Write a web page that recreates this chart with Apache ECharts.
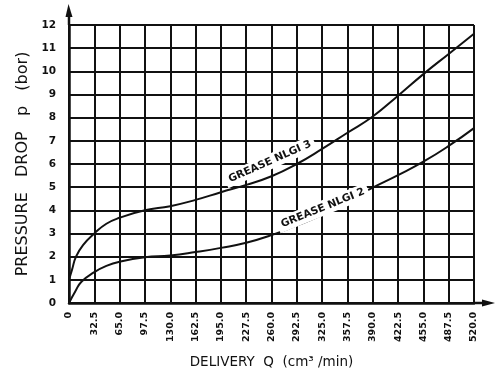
<!DOCTYPE html>
<html>
<head>
<meta charset="utf-8">
<script src="https://cdn.jsdelivr.net/npm/echarts@6/dist/echarts.min.js"></script>
<style>
  html, body { margin: 0; padding: 0; background: #fff; }
  #chart { width: 496px; height: 374px; }
</style>
</head>
<body>
<div id="chart"></div>
<script>
// Delivery Q (cm3/min) and pressure drop p (bar) for the two grease grades
const nlgi3Q = [0, 4, 9, 18, 32.5, 48, 65, 97.5, 130, 162.5, 195, 227.5, 260, 292.5, 325, 357.5, 390, 422.5, 455, 487.5, 520];
const nlgi3P = [1.0, 1.45, 2.0, 2.5, 3.0, 3.42, 3.68, 4.0, 4.18, 4.45, 4.78, 5.1, 5.47, 6.0, 6.65, 7.35, 8.05, 8.95, 9.88, 10.75, 11.62];

const nlgi2Q = [0, 8, 16, 32.5, 48, 65, 97.5, 130, 162.5, 195, 227.5, 260, 292.5, 325, 357.5, 390, 422.5, 455, 487.5, 520];
const nlgi2P = [0, 0.5, 0.92, 1.33, 1.6, 1.78, 1.97, 2.05, 2.2, 2.38, 2.6, 2.93, 3.35, 3.8, 4.4, 4.98, 5.52, 6.1, 6.78, 7.55];

// Axis tick labels
const xTickLabels = ['0', '32.5', '65.0', '97.5', '130.0', '162.5', '195.0', '227.5', '260.0',
  '292.5', '325.0', '357.5', '390.0', '422.5', '455.0', '487.5', '520.0'];
const yTickLabels = ['0', '1', '2', '3', '4', '5', '6', '7', '8', '9', '10', '11', '12'];

// Curve captions: text, anchor (Q, p) and baseline angle in degrees
const curveNames = ['GREASE NLGI 3', 'GREASE NLGI 2'];
const captionAnchors = [[258, 6.1], [326, 4.1]];
const captionAngles = [24, 22];

const pairs = (xs, ys) => xs.map((x, i) => [x, ys[i]]);

const INK = '#111';
const FONT = 'DejaVu Sans';

const chart = echarts.init(document.getElementById('chart'), null, { renderer: 'canvas' });

const option = {
  backgroundColor: '#fff',
  animation: false,
  grid: { left: 69, right: 22, top: 25, bottom: 68, containLabel: false },
  xAxis: {
    type: 'value',
    min: 0, max: 520, interval: 32.5,
    name: 'DELIVERY  Q  (cm\u00b3 /min)',
    nameLocation: 'middle',
    nameGap: 52,
    nameTextStyle: { fontFamily: FONT, fontSize: 13.5, color: INK },
    axisLine: { show: true, lineStyle: { color: INK, width: 2.5 } },
    axisTick: { show: false },
    axisLabel: {
      rotate: 90, margin: 9, fontFamily: FONT, fontWeight: 'bold', fontSize: 9.5, color: INK,
      formatter: (v, i) => xTickLabels[i] ?? ''
    },
    splitLine: { show: true, lineStyle: { color: INK, width: 2 } }
  },
  yAxis: {
    type: 'value',
    min: 0, max: 12, interval: 1,
    name: 'PRESSURE   DROP   p   (bor)',
    nameLocation: 'middle',
    nameRotate: 90,
    nameGap: 38,
    nameTextStyle: { fontFamily: FONT, fontSize: 16, color: INK },
    axisLine: { show: true, lineStyle: { color: INK, width: 2.5 } },
    axisTick: { show: false },
    axisLabel: {
      margin: 13, fontFamily: FONT, fontWeight: 'bold', fontSize: 10.5, color: INK,
      formatter: (v, i) => yTickLabels[i] ?? ''
    },
    splitLine: { show: true, lineStyle: { color: INK, width: 2 } }
  },
  series: [
    {
      name: curveNames[0], type: 'line', data: pairs(nlgi3Q, nlgi3P),
      smooth: 0.5, showSymbol: false, z: 5,
      lineStyle: { color: INK, width: 2 }
    },
    {
      name: curveNames[1], type: 'line', data: pairs(nlgi2Q, nlgi2P),
      smooth: 0.5, showSymbol: false, z: 5,
      lineStyle: { color: INK, width: 2 }
    }
  ]
};

chart.setOption(option);

// Axis arrows and curve captions, placed through the chart's own coordinate system
function overlay() {
  const toPx = (pt) => chart.convertToPixel({ xAxisIndex: 0, yAxisIndex: 0 }, pt);
  const origin = toPx([0, 0]);
  const yTop = toPx([0, 12]);
  const xEnd = toPx([520, 0]);
  const elements = [];

  // vertical axis extension with arrow head
  elements.push({ type: 'line', z: 50, shape: { x1: origin[0], y1: yTop[1], x2: origin[0], y2: yTop[1] - 10 },
    style: { stroke: INK, lineWidth: 2.5 } });
  elements.push({ type: 'polygon', z: 50, shape: { points: [[origin[0] - 3.5, yTop[1] - 8], [origin[0] + 3.5, yTop[1] - 8], [origin[0] - 0.5, yTop[1] - 21]] },
    style: { fill: INK } });

  // horizontal axis extension with arrow head
  elements.push({ type: 'line', z: 50, shape: { x1: xEnd[0], y1: origin[1], x2: xEnd[0] + 10, y2: origin[1] },
    style: { stroke: INK, lineWidth: 2.5 } });
  elements.push({ type: 'polygon', z: 50, shape: { points: [[xEnd[0] + 8, origin[1] - 3.5], [xEnd[0] + 8, origin[1] + 3.5], [xEnd[0] + 21, origin[1]]] },
    style: { fill: INK } });

  curveNames.forEach((txt, i) => {
    const p = toPx(captionAnchors[i]);
    elements.push({
      type: 'text', z: 60, x: p[0], y: p[1],
      rotation: captionAngles[i] * Math.PI / 180,
      style: {
        text: txt, fill: INK, align: 'center', verticalAlign: 'middle',
        font: 'bold 10.5px "' + FONT + '"',
        backgroundColor: '#fff', padding: [2, 4]
      }
    });
  });

  chart.setOption({ graphic: { elements } });
}
overlay();
</script>
</body>
</html>
